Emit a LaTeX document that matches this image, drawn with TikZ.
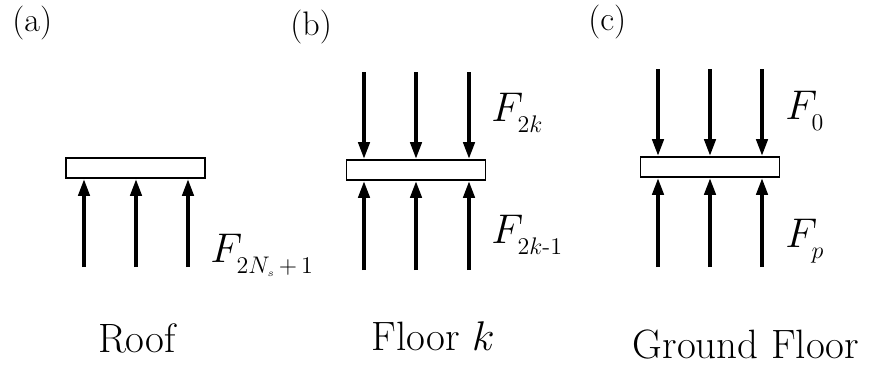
\documentclass[tikz,border=0pt]{standalone}
\usetikzlibrary{arrows.meta}
\newcommand{\subx}[1]{\lower2.5pt\hbox{\fontsize{12}{14}\selectfont$#1$}}
\begin{document}
\begin{tikzpicture}[x=0.5pt,y=-0.5pt,
  slab/.style={draw,line width=0.8pt,fill=white,minimum width=69.5pt,minimum height=10pt,inner sep=0pt},
  force/.style={line width=2pt,-{Triangle[length=8.5pt,width=5.5pt]}},
  big/.style={font=\fontsize{20.5}{24}\selectfont,inner sep=0pt},
  tag/.style={font=\fontsize{17}{20}\selectfont,inner sep=0pt,anchor=base west},
  flab/.style={font=\fontsize{20}{24}\selectfont,inner sep=0pt,anchor=base west}]
\useasboundingbox (0,0) rectangle (872,364);
% panel (a)
\node[tag] (ta) at (12,32) {(a)};
\node[slab] (roof) at (135.5,168) {};
\foreach \i/\x in {1/84,2/136,3/188}{
  \coordinate (ab\i) at (\x,267);
  \draw[force] (ab\i) -- (ab\i |- roof.south);
}
\node[flab] (fa) at (210,262) {$F_{\subx{2N_{\hbox{\fontsize{5}{6}\selectfont$s$}}\,{+}\,1}}$};
\node[big,anchor=base] (la) at (137,352) {Roof};
% panel (b)
\node[tag] (tb) at (290,35) {(b)};
\node[slab] (floor) at (416,170) {};
\foreach \i/\x in {1/364,2/416,3/469}{
  \coordinate (bt\i) at (\x,72);
  \coordinate (bb\i) at (\x,270);
  \draw[force] (bt\i) -- (bt\i |- floor.north);
  \draw[force] (bb\i) -- (bb\i |- floor.south);
}
\node[flab] (fb1) at (491,121) {$F_{\subx{2k}}$};
\node[flab] (fb2) at (491,243) {$F_{\subx{2k\mbox{-}1}}$};
\node[big,anchor=base] (lb) at (433,350) {Floor $k$};
% panel (c)
\node[tag] (tc) at (588,30) {(c)};
\node[slab] (ground) at (710,167) {};
\foreach \i/\x in {1/658,2/710,3/762}{
  \coordinate (ct\i) at (\x,69);
  \coordinate (cb\i) at (\x,267);
  \draw[force] (ct\i) -- (ct\i |- ground.north);
  \draw[force] (cb\i) -- (cb\i |- ground.south);
}
\node[flab] (fc1) at (785,119) {$F_{\subx{0}}$};
\node[flab] (fc2) at (785,247) {$F_{\subx{p}}$};
\node[big,anchor=base] (lc) at (746,358) {Ground Floor};
\end{tikzpicture}
\end{document}
